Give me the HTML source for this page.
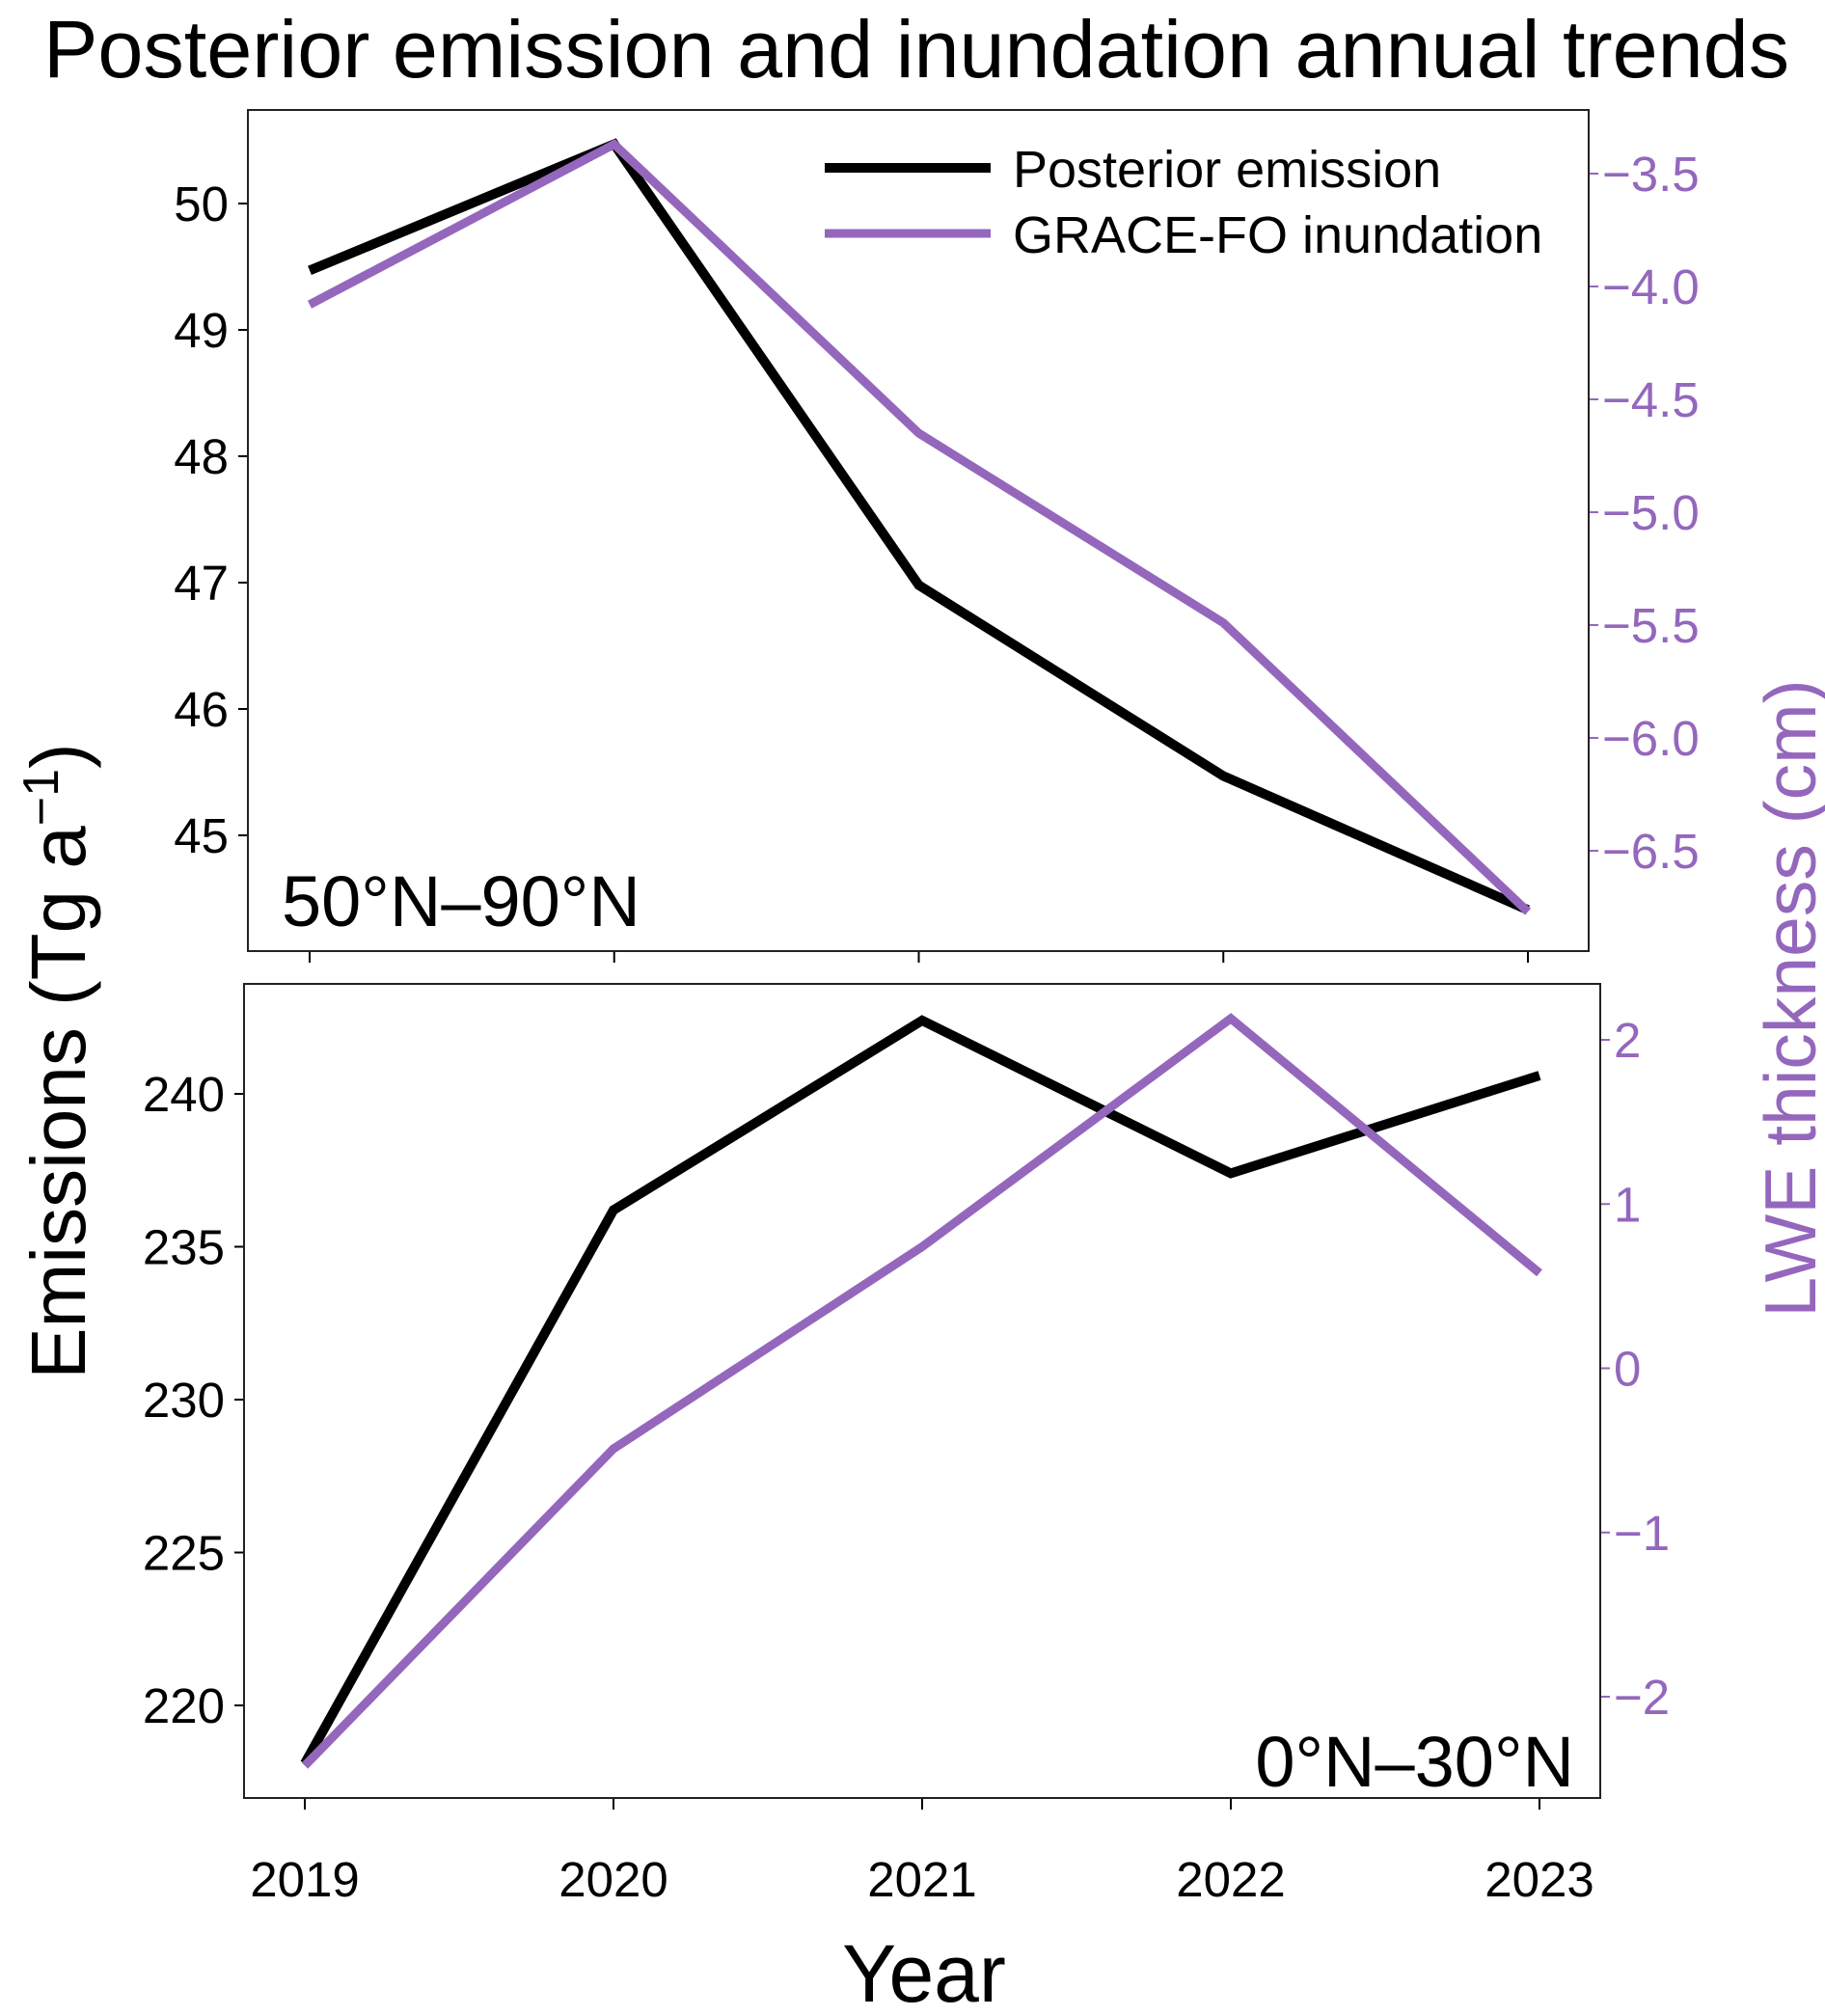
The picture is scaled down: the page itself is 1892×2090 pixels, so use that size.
<!DOCTYPE html>
<html><head><meta charset="utf-8"><style>
body{margin:0;background:#fff}
svg text{font-family:"Liberation Sans",sans-serif}
</style></head><body>
<svg width="1892" height="2085" viewBox="0 0 1892 2085" xmlns="http://www.w3.org/2000/svg">
<text x="950" y="80" font-size="84" text-anchor="middle" textLength="1810" lengthAdjust="spacingAndGlyphs">Posterior emission and inundation annual trends</text>
<g id="root"></g>
<text transform="translate(88,1100) rotate(-90)" font-size="80" text-anchor="middle">Emissions (Tg a<tspan dy="-28" font-size="52">−1</tspan><tspan dy="28">)</tspan></text>
<text transform="translate(1882,1035) rotate(-90)" font-size="75" fill="#9467bd" text-anchor="middle">LWE thickness (cm)</text>
<text x="958" y="2075" font-size="84" text-anchor="middle">Year</text>
</svg>
<script>
const years=[2019,2020,2021,2022,2023];
const emisTop=[49.47,50.47,46.98,45.47,44.41];
const graceTop=[-4.08,-3.37,-4.65,-5.49,-6.77];
const emisBot=[218.1,236.2,242.4,237.4,240.6];
const graceBot=[-2.42,-0.49,0.74,2.13,0.58];
const leftTicksTop=[45,46,47,48,49,50];
const rightTicksTop=[-6.5,-6.0,-5.5,-5.0,-4.5,-4.0,-3.5];
const leftTicksBot=[220,225,230,235,240];
const rightTicksBot=[-2,-1,0,1,2];
const PURPLE="#9467bd",NS="http://www.w3.org/2000/svg";
const root=document.getElementById('root');
function mk(tag,at,parent){const e=document.createElementNS(NS,tag);for(const k in at)e.setAttribute(k,at[k]);(parent||root).appendChild(e);return e;}
function lin(d0,d1,r0,r1){return v=>r0+(v-d0)*(r1-r0)/(d1-d0);}
function fmtR(v,dec){return (v<0?"−":"")+Math.abs(v).toFixed(dec);}
function panel(p){
  const g=mk('g',{});
  
  
  const x=lin(2019,2023,p.x0,p.x1);
  const yl=lin(p.l0,p.l1,p.ly0,p.ly1);
  const yr=lin(p.r0,p.r1,p.ry0,p.ry1);
  p.lt.forEach(v=>{
    const t=mk('line',{x1:p.L-10,x2:p.L,y1:yl(v),y2:yl(v),stroke:'#000','stroke-width':2},g);
    
    const tx=mk('text',{x:p.L-20,y:yl(v)+18,'font-size':51,'text-anchor':'end'},g);
    
    tx.textContent=String(v);
  });
  p.rt.forEach(v=>{
    const t=mk('line',{x1:p.R,x2:p.R+10,y1:yr(v),y2:yr(v),stroke:PURPLE,'stroke-width':2},g);
    
    const tx=mk('text',{x:p.R+14,y:yr(v)+18,'font-size':51,fill:PURPLE},g);
    
    tx.textContent=fmtR(v,p.rdec);
  });
  years.forEach(yv=>{
    const t=mk('line',{x1:x(yv),x2:x(yv),y1:p.B,y2:p.B+12,stroke:'#000','stroke-width':2},g);
    
    if(p.xlabels){
      const tx=mk('text',{x:x(yv),y:p.B+102,'font-size':51,'text-anchor':'middle'},g);
      
      tx.textContent=String(yv);
    }
  });
  const l1=mk('polyline',{points:years.map((yv,i)=>x(yv)+','+yl(p.em[i])).join(' '),fill:'none',stroke:'#000','stroke-width':10},g);
  
  const l2=mk('polyline',{points:years.map((yv,i)=>x(yv)+','+yr(p.gr[i])).join(' '),fill:'none',stroke:PURPLE,'stroke-width':9},g);
  
  const fr=mk('rect',{x:p.L,y:p.T,width:p.R-p.L,height:p.B-p.T,fill:'none',stroke:'#222','stroke-width':2},g);
  
  const rl=mk('text',{x:p.lx,y:p.lyy,'font-size':74,'text-anchor':p.anchor},g);
  
  rl.textContent=p.region;
  return g;
}
panel({name:'top-panel',L:257,R:1647,T:114,B:986,x0:321,x1:1584,
  l0:45,l1:50,ly0:866,ly1:211,r0:-6.5,r1:-3.5,ry0:882,ry1:180,
  lt:leftTicksTop,rt:rightTicksTop,rdec:1,em:emisTop,gr:graceTop,xlabels:false,
  region:'50°N–90°N',lx:292,lyy:960,anchor:'start'});
panel({name:'bottom-panel',L:253,R:1659,T:1020,B:1864,x0:316,x1:1596,
  l0:220,l1:240,ly0:1768,ly1:1134,r0:-2,r1:2,ry0:1759,ry1:1078,
  lt:leftTicksBot,rt:rightTicksBot,rdec:0,em:emisBot,gr:graceBot,xlabels:true,
  region:'0°N–30°N',lx:1632,lyy:1852,anchor:'end'});
const lg=mk('g',{});


const a=mk('line',{x1:855,x2:1027,y1:174,y2:174,stroke:'#000','stroke-width':10},lg);

const at=mk('text',{x:1050,y:194,'font-size':54},lg);

at.textContent='Posterior emission';
const b=mk('line',{x1:855,x2:1027,y1:242,y2:242,stroke:PURPLE,'stroke-width':9},lg);

const bt=mk('text',{x:1050,y:262,'font-size':54},lg);

bt.textContent='GRACE-FO inundation';
</script>
</body></html>
